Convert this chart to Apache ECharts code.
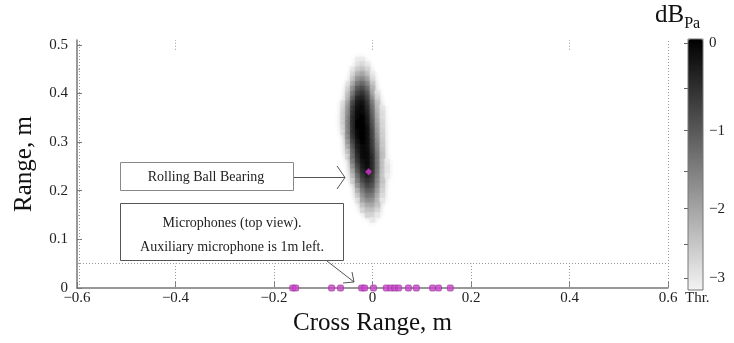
<!DOCTYPE html>
<html>
<head>
<meta charset="utf-8">
<script src="https://cdn.jsdelivr.net/npm/echarts@6/dist/echarts.min.js"></script>
<style>
  html, body { margin: 0; padding: 0; background: #fff; }
  #chart { width: 734px; height: 343px; }
</style>
</head>
<body>
<div id="chart"></div>
<script>
// Acoustic image of the bearing: level in dB re. peak, cells of 0.01 m x 0.01 m.
// Columns: cross range positions; rows: range positions (top to bottom).
const imgCols = [-0.07, -0.06, -0.05, -0.04, -0.03, -0.02, -0.01, 0.00, 0.01, 0.02, 0.03, 0.04, 0.05];
const imgRows = [0.47, 0.46, 0.45, 0.44, 0.43, 0.42, 0.41, 0.40, 0.39, 0.38, 0.37, 0.36, 0.35, 0.34,
                 0.33, 0.32, 0.31, 0.30, 0.29, 0.28, 0.27, 0.26, 0.25, 0.24, 0.23, 0.22, 0.21, 0.20,
                 0.19, 0.18, 0.17, 0.16, 0.15, 0.14];
const _ = null; // below threshold
const imgDb = [
  [_, _, _, _, -3.1, -3.1, _, _, _, _, _, _, _],
  [_, _, _, _, -3.0, -2.8, -3.1, _, _, _, _, _, _],
  [_, _, _, -3.1, -2.7, -2.5, -2.8, _, _, _, _, _, _],
  [_, _, _, -2.9, -2.3, -2.1, -2.4, -3.1, _, _, _, _, _],
  [_, _, _, -2.6, -1.9, -1.7, -2.0, -2.9, _, _, _, _, _],
  [_, _, -3.1, -2.3, -1.5, -1.3, -1.6, -2.6, _, _, _, _, _],
  [_, _, -2.9, -1.9, -1.1, -0.9, -1.2, -2.3, _, _, _, _, _],
  [_, _, -2.7, -1.6, -0.8, -0.6, -0.9, -2.0, -3.0, _, _, _, _],
  [_, _, -2.5, -1.3, -0.5, -0.4, -0.7, -1.7, -2.8, _, _, _, _],
  [_, -3.0, -2.2, -0.9, -0.3, -0.2, -0.5, -1.4, -2.5, _, _, _, _],
  [_, -2.9, -2.0, -0.7, -0.2, -0.1, -0.4, -1.2, -2.3, -3.0, _, _, _],
  [_, -2.8, -1.9, -0.6, -0.1, -0.1, -0.3, -1.1, -2.2, -2.9, _, _, _],
  [_, -2.8, -1.8, -0.5, -0.1, 0.0, -0.2, -1.0, -2.1, -2.9, _, _, _],
  [_, -2.8, -1.7, -0.5, 0.0, 0.0, -0.2, -0.9, -2.0, -2.8, _, _, _],
  [_, -2.9, -1.7, -0.5, 0.0, 0.0, -0.1, -0.8, -1.9, -2.8, _, _, _],
  [_, -3.0, -1.8, -0.5, -0.1, 0.0, -0.1, -0.7, -1.8, -2.7, _, _, _],
  [_, _, -1.9, -0.6, -0.1, 0.0, -0.1, -0.7, -1.7, -2.7, _, _, _],
  [_, _, -2.1, -0.8, -0.2, 0.0, -0.1, -0.6, -1.6, -2.6, _, _, _],
  [_, _, -2.3, -1.0, -0.3, -0.1, -0.1, -0.6, -1.5, -2.6, _, _, _],
  [_, _, -2.6, -1.2, -0.4, -0.1, -0.1, -0.5, -1.4, -2.5, _, _, _],
  [_, _, -2.9, -1.4, -0.5, -0.1, -0.1, -0.4, -1.3, -2.4, _, _, _],
  [_, _, _, -1.6, -0.6, -0.2, -0.1, -0.4, -1.3, -2.4, -3.1, _, _],
  [_, _, _, -1.9, -0.8, -0.3, -0.1, -0.4, -1.3, -2.4, -3.0, _, _],
  [_, _, _, -2.2, -1.0, -0.4, -0.2, -0.4, -1.3, -2.4, -3.0, _, _],
  [_, _, _, -2.5, -1.3, -0.6, -0.3, -0.5, -1.4, -2.5, -3.1, _, _],
  [_, _, _, -2.8, -1.6, -0.8, -0.5, -0.6, -1.5, -2.5, _, _, _],
  [_, _, _, _, -1.9, -1.1, -0.7, -0.8, -1.6, -2.6, _, _, _],
  [_, _, _, _, -2.3, -1.4, -1.0, -1.0, -1.8, -2.7, _, _, _],
  [_, _, _, _, -2.6, -1.7, -1.3, -1.3, -2.0, -2.8, _, _, _],
  [_, _, _, _, -3.0, -2.0, -1.6, -1.6, -2.2, -3.0, _, _, _],
  [_, _, _, _, _, -2.4, -2.0, -1.9, -2.4, _, _, _, _],
  [_, _, _, _, _, -2.8, -2.4, -2.3, -2.7, _, _, _, _],
  [_, _, _, _, _, _, -2.7, -2.6, -3.0, _, _, _, _],
  [_, _, _, _, _, _, _, -3.0, _, _, _, _, _]
];
const cellSize = 0.01;
const thresholdDb = -3.18;

// Microphone array positions along cross range (range = 0)
const micX = [-0.162, -0.156, -0.083, -0.065, -0.022, -0.016, 0.002, 0.028, 0.037,
              0.045, 0.053, 0.073, 0.089, 0.122, 0.134, 0.158];
// Located source
const sourcePos = [-0.008, 0.239];

// Axis ticks
const xTicks = [-0.6, -0.4, -0.2, 0, 0.2, 0.4, 0.6];
const yTicks = [0, 0.1, 0.2, 0.3, 0.4, 0.5];
const cbTicks = [0, -1, -2, -3];
const cbMinor = [-0.5, -1.5, -2.5];
const thresholdRange = 0.05;

// Colour scale is linear in pressure ratio, labelled in dB
const dbToRatio = d => Math.pow(10, d / 20);
const ratioToDb = r => 20 * Math.log10(r);
const cbMin = dbToRatio(thresholdDb);
const cbMax = 1.005;

const imgData = [];
imgRows.forEach((r, i) => {
  imgCols.forEach((c, j) => {
    const v = imgDb[i][j];
    if (v !== null) imgData.push([c, r, v, dbToRatio(v)]);
  });
});

const serif = '"Liberation Serif", "DejaVu Serif", serif';
const minus = s => String(s).replace('-', '\u2212');

const chart = echarts.init(document.getElementById('chart'), null, { renderer: 'canvas' });

const dotted = { type: [1, 2], color: '#999', width: 1 };

const option = {
  backgroundColor: '#fff',
  animation: false,
  textStyle: { fontFamily: serif },
  grid: [
    { left: 77, right: 66, top: 40, height: 248, outerBoundsMode: 'none', containLabel: false },
    { left: 688, width: 15, top: 39, height: 251, show: true, borderColor: '#777', borderWidth: 1, z: 5,
      outerBoundsMode: 'none', containLabel: false }
  ],
  xAxis: [
    {
      gridIndex: 0, type: 'value', min: -0.6, max: 0.6, interval: 0.2,
      name: 'Cross Range, m', nameLocation: 'middle', nameGap: 23,
      nameTextStyle: { fontFamily: serif, fontSize: 25, color: '#111' },
      axisLine: { onZero: false, lineStyle: { color: '#777', width: 1.5 } },
      axisTick: { inside: true, length: 6, lineStyle: { color: '#777' } },
      axisLabel: { fontFamily: serif, fontSize: 15, color: '#222', margin: 3, formatter: v => minus(v) },
      splitLine: { show: false }
    },
    { gridIndex: 1, type: 'value', min: 0, max: 1, show: false }
  ],
  yAxis: [
    {
      gridIndex: 0, type: 'value', min: 0, max: 0.51,
      name: 'Range, m', nameLocation: 'middle', nameGap: 40,
      nameTextStyle: { fontFamily: serif, fontSize: 25, color: '#111' },
      axisLine: { onZero: false, lineStyle: { color: '#777', width: 1.5 } },
      axisTick: { inside: true, length: 5, customValues: yTicks, lineStyle: { color: '#777' } },
      minorTick: { show: true, splitNumber: 2, length: 3, lineStyle: { color: '#aaa' } },
      axisLabel: { fontFamily: serif, fontSize: 15, color: '#222', margin: 9, customValues: yTicks },
      splitLine: { show: false }
    },
    {
      gridIndex: 1, type: 'value', min: cbMin, max: cbMax, position: 'right',
      axisLine: { show: false },
      axisTick: {
        show: true, inside: true, length: 4,
        customValues: cbTicks.concat(cbMinor).map(dbToRatio), lineStyle: { color: '#666' }
      },
      axisLabel: {
        fontFamily: serif, fontSize: 15, color: '#222', margin: 6,
        customValues: cbTicks.map(dbToRatio),
        formatter: v => minus(Math.round(ratioToDb(v)))
      },
      splitLine: { show: false }
    }
  ],
  visualMap: {
    type: 'continuous', min: cbMin, max: cbMax, seriesIndex: 0, dimension: 3,
    left: 683, top: 34, itemWidth: 15, itemHeight: 251, calculable: false,
    text: null, showLabel: false, padding: 5,
    inRange: { color: ['#f3f3f3', '#000000'] }
  },
  series: [
    {
      name: 'image', type: 'custom', xAxisIndex: 0, yAxisIndex: 0, z: 2,
      data: imgData,
      renderItem: (params, api) => {
        const c = api.coord([api.value(0), api.value(1)]);
        const s = api.size([cellSize, cellSize]);
        const col = api.visual('color');
        return {
          type: 'rect',
          shape: { x: c[0] - s[0] / 2 - 0.3, y: c[1] - s[1] / 2 - 0.3, width: s[0] + 0.6, height: s[1] + 0.6 },
          style: { fill: col, shadowBlur: 6, shadowColor: col }
        };
      }
    },
    {
      name: 'grid', type: 'line', xAxisIndex: 0, yAxisIndex: 0, data: [], silent: true,
      markLine: {
        symbol: 'none', silent: true, label: { show: false },
        lineStyle: dotted,
        data: [
          [{ coord: [-0.6, thresholdRange] }, { coord: [0.6, thresholdRange] }],
          [{ coord: [0.6, 0] }, { coord: [0.6, 0.51] }],
          [{ coord: [-0.596, 0] }, { coord: [-0.596, 0.51] }]
        ].concat(xTicks.slice(1, -1).map(x => [{ coord: [x, 0] }, { coord: [x, thresholdRange] }]))
         .concat([-0.4, 0, 0.4].map(x => [{ coord: [x, 0.49] }, { coord: [x, 0.51] }]))
      }
    },
    {
      name: 'microphones', type: 'scatter', xAxisIndex: 0, yAxisIndex: 0, z: 4,
      symbol: 'roundRect', symbolSize: [6, 6],
      itemStyle: { color: '#cc44cc', borderColor: '#993399', borderWidth: 0.8 },
      data: micX.map(x => [x, 0])
    },
    {
      name: 'source', type: 'scatter', xAxisIndex: 0, yAxisIndex: 0, z: 4,
      symbol: 'diamond', symbolSize: 7,
      itemStyle: { color: '#dd33dd' },
      data: [sourcePos]
    }
  ],
  graphic: [
    {
      type: 'text', left: 655, top: 3,
      style: {
        text: '{a|dB}{b|Pa}',
        rich: {
          a: { fontFamily: serif, fontSize: 25, fill: '#111', verticalAlign: 'bottom' },
          b: { fontFamily: serif, fontSize: 16, fill: '#111', verticalAlign: 'bottom', padding: [0, 0, -4, 0] }
        }
      }
    },
    { type: 'text', left: 685, top: 291, style: { text: 'Thr.', fontFamily: serif, fontSize: 15, fill: '#222' } },
    {
      type: 'group', z: 10,
      children: [
        { type: 'rect', shape: { x: 120.5, y: 162.5, width: 173, height: 28 }, style: { fill: '#fff', stroke: '#888', lineWidth: 1 } },
        { type: 'text', x: 206, y: 177, style: { text: 'Rolling Ball Bearing', fontFamily: serif, fontSize: 14, fill: '#222', align: 'center', verticalAlign: 'middle' } },
        { type: 'polyline', shape: { points: [[294, 177.5], [345, 177.5]] }, style: { stroke: '#555', lineWidth: 1 } },
        { type: 'polyline', shape: { points: [[337, 166], [345, 177.5], [337, 189]] }, style: { stroke: '#555', lineWidth: 1, fill: null } },
        { type: 'rect', shape: { x: 120.5, y: 203.5, width: 223, height: 57 }, style: { fill: '#fff', stroke: '#555', lineWidth: 1 } },
        { type: 'text', x: 232, y: 223, style: { text: 'Microphones (top view).', fontFamily: serif, fontSize: 14, fill: '#222', align: 'center', verticalAlign: 'middle' } },
        { type: 'text', x: 232, y: 247, style: { text: 'Auxiliary microphone is 1m left.', fontFamily: serif, fontSize: 14, fill: '#222', align: 'center', verticalAlign: 'middle' } },
        { type: 'polyline', shape: { points: [[327, 261], [354, 282]] }, style: { stroke: '#555', lineWidth: 1 } },
        { type: 'polyline', shape: { points: [[343, 283], [354, 282], [352, 272]] }, style: { stroke: '#555', lineWidth: 1, fill: null } }
      ]
    }
  ]
};

chart.setOption(option);
</script>
</body>
</html>
